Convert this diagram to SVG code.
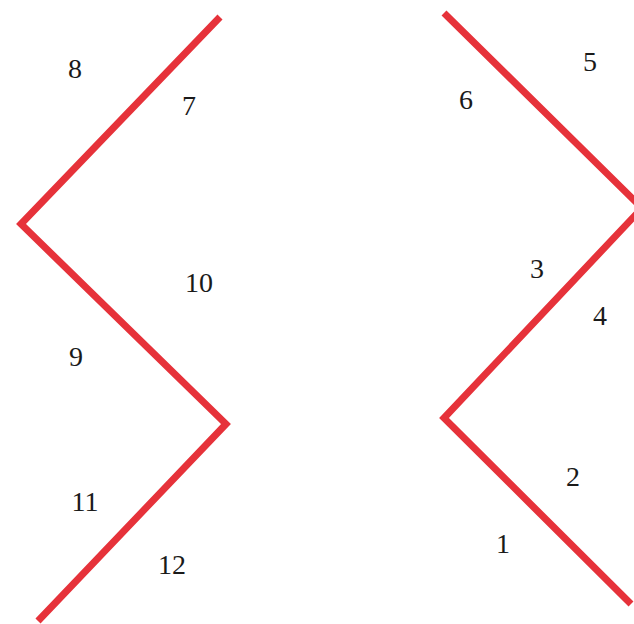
<svg xmlns="http://www.w3.org/2000/svg" width="634" height="624" viewBox="0 0 634 624">
<style>
.ln{fill:none;stroke:#e6323a;stroke-width:7;stroke-linejoin:miter;stroke-linecap:butt}
.lb{font-family:"Liberation Serif","Times New Roman",serif;font-size:28px;fill:#1a1a1a;text-anchor:middle}
</style>
<rect width="634" height="624" fill="#ffffff"/>
<g id="connectors">
<polyline id="left-zigzag" class="ln" points="220,17 21,224 226,424 38,621"/>
<polyline id="right-zigzag" class="ln" points="444,13 642,208 444,418 631,604"/>
</g>
<g id="labels">
<g id="n1"><text class="lb" x="503" y="553">1</text></g>
<g id="n2"><text class="lb" x="573" y="486">2</text></g>
<g id="n3"><text class="lb" x="537" y="278">3</text></g>
<g id="n4"><text class="lb" x="600" y="325">4</text></g>
<g id="n5"><text class="lb" x="590" y="71">5</text></g>
<g id="n6"><text class="lb" x="466" y="109">6</text></g>
<g id="n7"><text class="lb" x="189" y="115">7</text></g>
<g id="n8"><text class="lb" x="75" y="78">8</text></g>
<g id="n9"><text class="lb" x="76" y="366">9</text></g>
<g id="n10"><text class="lb" x="199" y="292">10</text></g>
<g id="n11"><text class="lb" x="85" y="511">11</text></g>
<g id="n12"><text class="lb" x="172" y="574">12</text></g>
</g>
</svg>
